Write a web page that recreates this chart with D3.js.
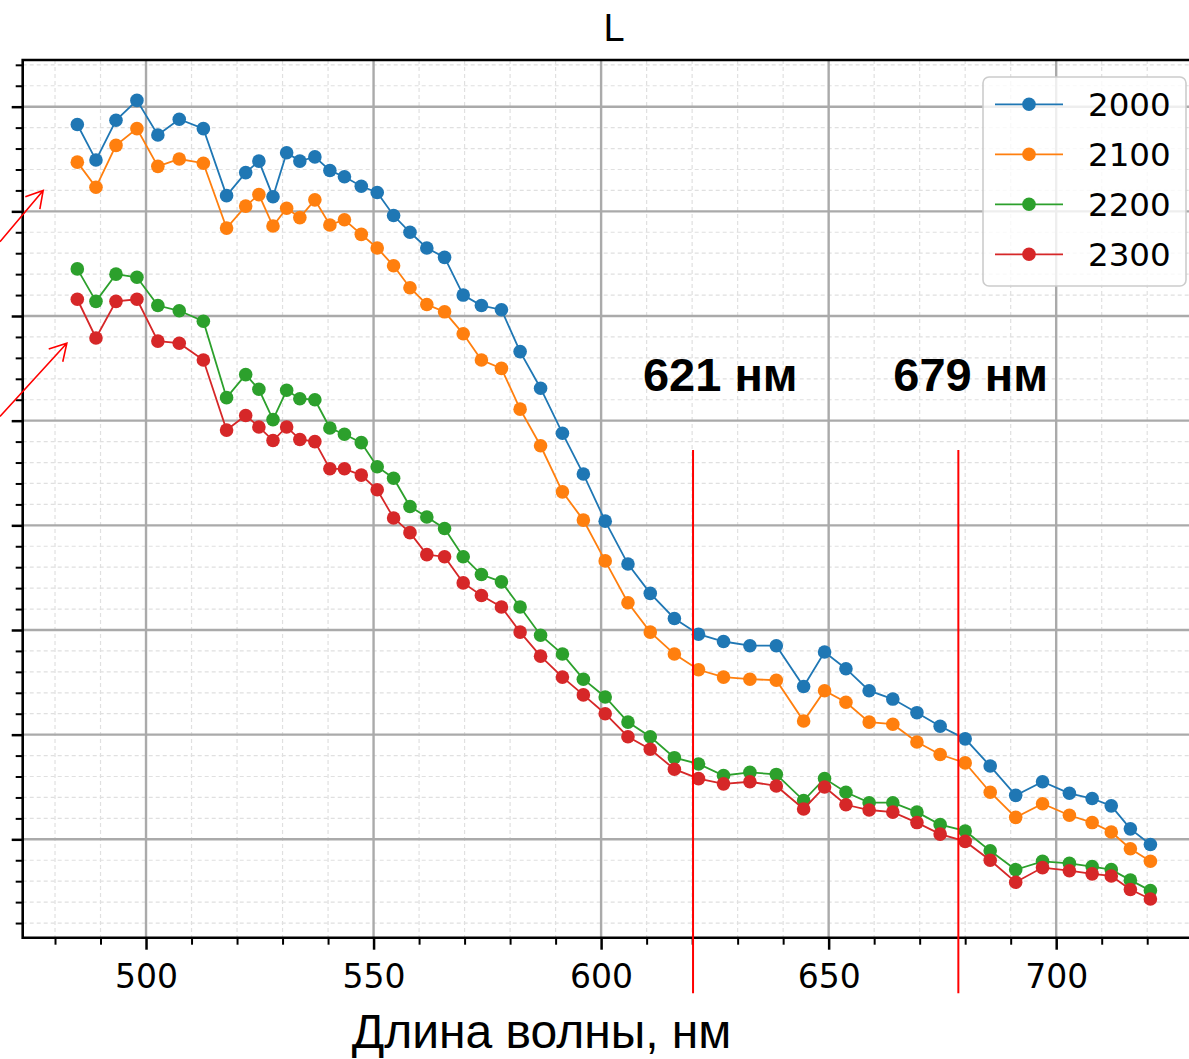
<!DOCTYPE html>
<html><head><meta charset="utf-8">
<script src="https://cdn.jsdelivr.net/npm/d3@7"></script>
<style>html,body{margin:0;padding:0;background:#fff;overflow:hidden}</style>
</head><body>
<svg id="chart" width="1189" height="1059"></svg>
<script>
// ---------- data ----------
const wavelengths = [484.9,489.0,493.4,498.0,502.6,507.3,512.6,517.7,521.9,524.8,
  527.9,530.9,533.8,537.1,540.4,543.6,547.3,550.8,554.4,558.0,
  561.7,565.6,569.7,573.7,578.1,582.2,586.7,591.5,596.1,600.9,
  605.9,610.8,616.1,621.4,626.9,632.7,638.5,644.5,649.1,653.8,
  658.9,664.1,669.4,674.5,680.0,685.5,691.1,697.0,702.9,707.9,
  712.1,716.3,720.7];
const seriesNames = ["2000","2100","2200","2300"];
const series2000 = [37.83,37.49,37.87,38.06,37.73,37.88,37.79,37.15,37.37,37.48,
  37.14,37.56,37.48,37.52,37.39,37.33,37.24,37.18,36.96,36.80,
  36.65,36.56,36.20,36.10,36.06,35.66,35.31,34.88,34.49,34.04,
  33.63,33.35,33.11,32.96,32.89,32.85,32.85,32.46,32.79,32.63,
  32.42,32.34,32.21,32.08,31.96,31.70,31.42,31.55,31.44,31.39,
  31.32,31.10,30.95];
const series2100 = [37.47,37.23,37.63,37.79,37.43,37.50,37.46,36.84,37.05,37.16,
  36.86,37.03,36.94,37.11,36.87,36.92,36.78,36.65,36.48,36.27,
  36.11,36.04,35.83,35.58,35.50,35.11,34.76,34.32,34.05,33.66,
  33.26,32.98,32.77,32.62,32.55,32.53,32.52,32.13,32.42,32.31,
  32.12,32.10,31.93,31.81,31.73,31.45,31.21,31.34,31.23,31.16,
  31.07,30.91,30.79];
const series2200 = [36.45,36.14,36.40,36.37,36.10,36.05,35.95,35.22,35.44,35.30,
  35.01,35.29,35.21,35.20,34.93,34.87,34.79,34.56,34.45,34.18,
  34.08,33.97,33.70,33.53,33.46,33.22,32.95,32.77,32.53,32.36,
  32.12,31.98,31.78,31.72,31.61,31.64,31.62,31.37,31.58,31.45,
  31.35,31.35,31.26,31.14,31.08,30.89,30.71,30.79,30.77,30.74,
  30.71,30.61,30.51];
const series2300 = [36.16,35.79,36.14,36.16,35.76,35.74,35.58,34.91,35.05,34.94,
  34.81,34.94,34.82,34.80,34.54,34.54,34.48,34.34,34.07,33.93,
  33.72,33.70,33.45,33.33,33.22,32.98,32.75,32.55,32.38,32.20,
  31.98,31.86,31.67,31.58,31.53,31.55,31.51,31.29,31.50,31.33,
  31.28,31.26,31.16,31.05,30.98,30.80,30.59,30.73,30.70,30.67,
  30.65,30.52,30.43];
const seriesColors = ["#1f77b4","#ff7f0e","#2ca02c","#d62728"];
const xMajorTicks = [500,550,600,650,700];
const xTickLabels = ["500","550","600","650","700"];
const yMajorTicks = [31,32,33,34,35,36,37,38];
const titleText = "L";
const xAxisTitle = "Длина волны, нм";
const markerLines = [620.2, 678.5];          // red vertical annotation lines (nm)
const markerLabels = ["621 нм", "679 нм"];
const markerLabelX = [609.2, 664.2];
const markerLabelY = 35.28;
const markerLineRange = [34.72, 29.53];
const arrowFrom = [[467.9, 36.71], [467.9, 35.04]];
const arrowTo   = [[477.4, 37.20], [482.6, 35.74]];

// ---------- layout ----------
const svg = d3.select("#chart");
const x = d3.scaleLinear().domain([472.9, 731.6]).range([22.7, 1200]);
const y = d3.scaleLinear().domain([30.06, 38.446]).range([937.7, 60]);
const [x0, x1] = x.range();
const [yb, yt] = y.range();

const xMinorTicks = d3.range(480, 731, 10).filter(v => v % 50 !== 0);
const yMinorTicks = d3.range(30.2, 38.45, 0.2).map(v => +v.toFixed(1)).filter(v => Math.abs(v - Math.round(v)) > 1e-6);

// minor grid
const grid = svg.append("g");
grid.selectAll(".mgx").data(xMinorTicks).join("line")
  .attr("x1", d => x(d)).attr("x2", d => x(d)).attr("y1", yt).attr("y2", yb)
  .attr("stroke", "#e0e0e0").attr("stroke-width", 1.2).attr("stroke-dasharray", "4,3");
grid.selectAll(".mgy").data(yMinorTicks).join("line")
  .attr("x1", x0).attr("x2", x1).attr("y1", d => y(d)).attr("y2", d => y(d))
  .attr("stroke", "#e0e0e0").attr("stroke-width", 1.2).attr("stroke-dasharray", "4,3");
// major grid
grid.selectAll(".Mgx").data(xMajorTicks).join("line")
  .attr("x1", d => x(d)).attr("x2", d => x(d)).attr("y1", yt).attr("y2", yb)
  .attr("stroke", "#aaaaaa").attr("stroke-width", 2.4);
grid.selectAll(".Mgy").data(yMajorTicks).join("line")
  .attr("x1", x0).attr("x2", x1).attr("y1", d => y(d)).attr("y2", d => y(d))
  .attr("stroke", "#aaaaaa").attr("stroke-width", 2.4);

// series
const allSeries = [series2000, series2100, series2200, series2300];
const line = d3.line().x(d => x(d[0])).y(d => y(d[1]));
allSeries.forEach((vals, i) => {
  const pts = wavelengths.map((w, j) => [w, vals[j]]);
  const g = svg.append("g");
  g.append("path").datum(pts).attr("d", line).attr("fill", "none")
    .attr("stroke", seriesColors[i]).attr("stroke-width", 1.8);
  g.selectAll("circle").data(pts).join("circle")
    .attr("cx", d => x(d[0])).attr("cy", d => y(d[1])).attr("r", 6.8)
    .attr("fill", seriesColors[i]);
});

// axes
const xAxisMajor = d3.axisBottom(x).tickValues(xMajorTicks).tickSize(12).tickPadding(15)
  .tickFormat((d, i) => xTickLabels[i]);
const gx = svg.append("g").attr("transform", `translate(0,${yb})`).call(xAxisMajor);
gx.select(".domain").remove();
gx.selectAll(".tick line").attr("stroke", "#000").attr("stroke-width", 2.5);
gx.selectAll(".tick text").attr("font-family", "DejaVu Sans").attr("font-size", 33).attr("fill", "#000");
const gxm = svg.append("g").attr("transform", `translate(0,${yb})`)
  .call(d3.axisBottom(x).tickValues(xMinorTicks).tickSize(7).tickFormat(""));
gxm.select(".domain").remove();
gxm.selectAll(".tick line").attr("stroke", "#000").attr("stroke-width", 2);

const gy = svg.append("g").attr("transform", `translate(${x0},0)`)
  .call(d3.axisLeft(y).tickValues(yMajorTicks).tickSize(11).tickFormat(""));
gy.select(".domain").remove();
gy.selectAll(".tick line").attr("stroke", "#000").attr("stroke-width", 2.5);
const gym = svg.append("g").attr("transform", `translate(${x0},0)`)
  .call(d3.axisLeft(y).tickValues(yMinorTicks).tickSize(7).tickFormat(""));
gym.select(".domain").remove();
gym.selectAll(".tick line").attr("stroke", "#000").attr("stroke-width", 2);

// spines
svg.append("path")
  .attr("d", `M${x1},${yt}H${x0}V${yb}H${x1}`)
  .attr("fill", "none").attr("stroke", "#000").attr("stroke-width", 2.6);

// title & axis title
svg.append("text").attr("x", 614).attr("y", 41).attr("text-anchor", "middle")
  .attr("font-family", "Liberation Sans, Arial, sans-serif").attr("font-size", 38)
  .text(titleText);
svg.append("text").attr("x", 541.5).attr("y", 1048).attr("text-anchor", "middle")
  .attr("font-family", "Liberation Sans, Arial, sans-serif").attr("font-size", 48)
  .text(xAxisTitle);

// legend
const lg = svg.append("g");
lg.append("rect").attr("x", 983).attr("y", 77).attr("width", 203).attr("height", 209)
  .attr("rx", 6).attr("fill", "#fff").attr("fill-opacity", 0.8)
  .attr("stroke", "#cccccc").attr("stroke-width", 1.6);
seriesNames.forEach((name, i) => {
  const cy = 104.3 + i * 50;
  lg.append("line").attr("x1", 995).attr("x2", 1063).attr("y1", cy).attr("y2", cy)
    .attr("stroke", seriesColors[i]).attr("stroke-width", 1.8);
  lg.append("circle").attr("cx", 1029).attr("cy", cy).attr("r", 6.8).attr("fill", seriesColors[i]);
  lg.append("text").attr("x", 1088).attr("y", cy + 11.8)
    .attr("font-family", "DejaVu Sans").attr("font-size", 32.5).attr("fill", "#000").text(name);
});

// annotations: red vertical lines and labels
markerLines.forEach((v, i) => {
  svg.append("line").attr("x1", x(v)).attr("x2", x(v))
    .attr("y1", y(markerLineRange[0])).attr("y2", y(markerLineRange[1]))
    .attr("stroke", "#ff0000").attr("stroke-width", 2);
  svg.append("text").attr("x", x(markerLabelX[i])).attr("y", y(markerLabelY))
    .attr("font-family", "Liberation Sans, Arial, sans-serif").attr("font-weight", "bold")
    .attr("font-size", 47).attr("fill", "#000").text(markerLabels[i]);
});

// annotations: red arrows
arrowFrom.forEach((f, i) => {
  const t = arrowTo[i];
  const fx = x(f[0]), fy = y(f[1]), tx = x(t[0]), ty = y(t[1]);
  const ang = Math.atan2(fy - ty, fx - tx);
  const L = 19, a = Math.PI / 6;
  const p1 = [tx + L * Math.cos(ang + a), ty + L * Math.sin(ang + a)];
  const p2 = [tx + L * Math.cos(ang - a), ty + L * Math.sin(ang - a)];
  svg.append("path")
    .attr("d", `M${fx},${fy}L${tx},${ty}M${p1[0]},${p1[1]}L${tx},${ty}L${p2[0]},${p2[1]}`)
    .attr("fill", "none").attr("stroke", "#ff0000").attr("stroke-width", 1.6);
});
</script>
</body></html>
